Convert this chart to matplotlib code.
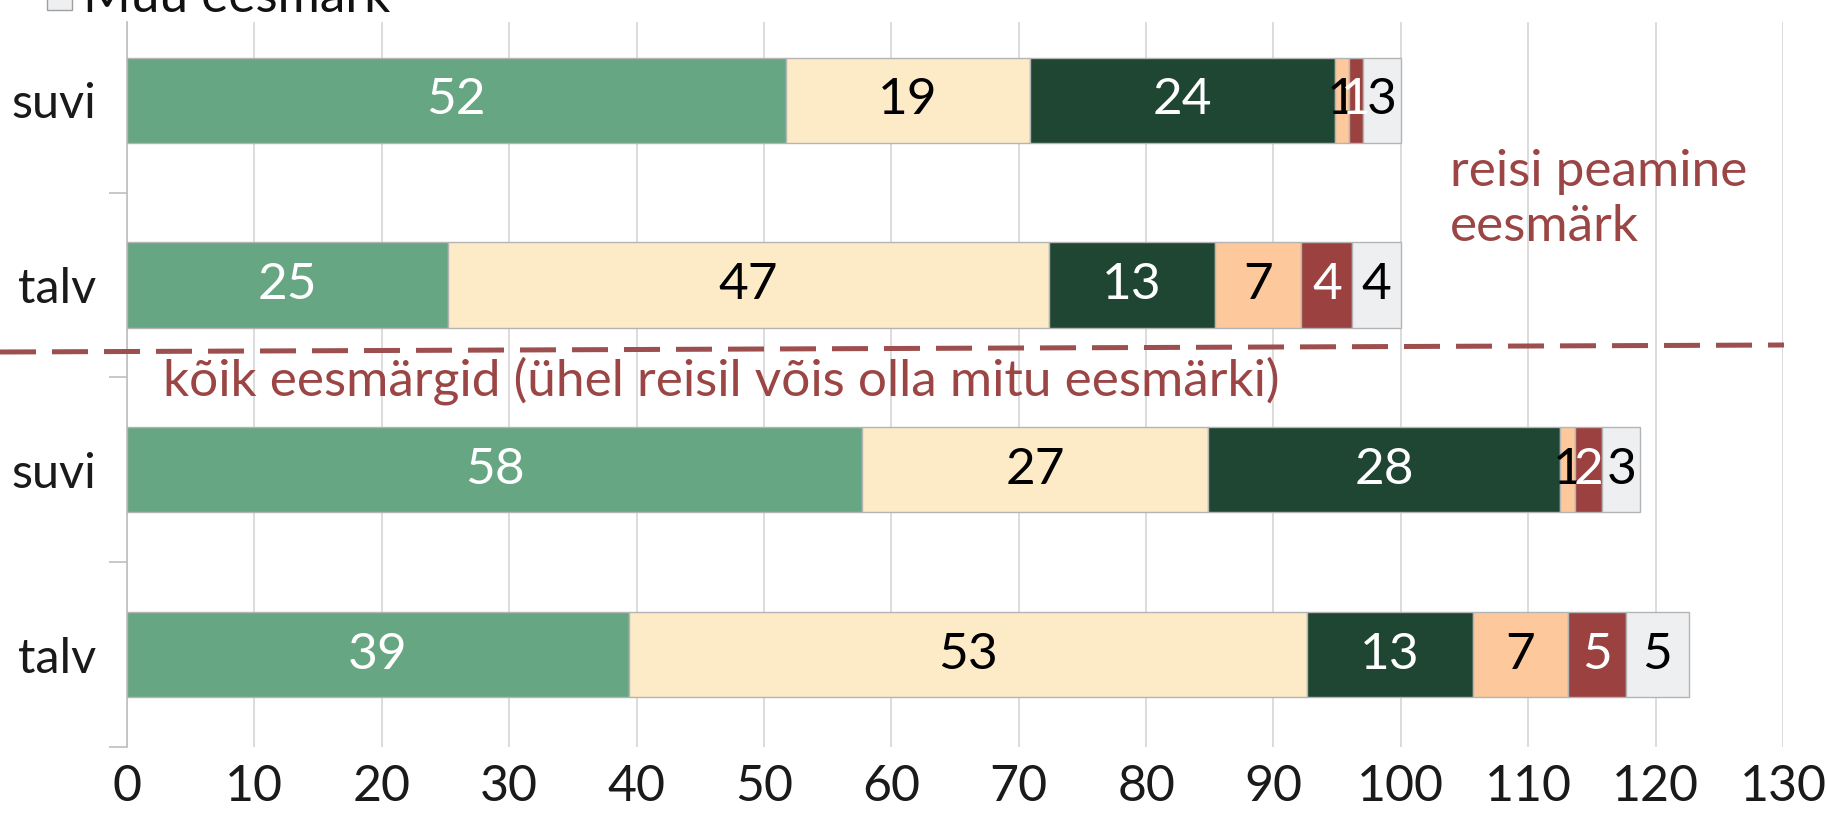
import numpy as np
import matplotlib
matplotlib.use("Agg")
from matplotlib import pyplot as plt
from matplotlib.patches import Rectangle
from matplotlib.lines import Line2D

plt.rcParams['font.family'] = ['Lato', 'DejaVu Sans']

# data (rows top to bottom)
categories = ["suvi", "talv", "suvi", "talv"]
purpose_1 = [51.7, 25.2, 57.7, 39.4]
purpose_2 = [19.2, 47.2, 27.2, 53.2]
purpose_3 = [23.9, 13.0, 27.6, 13.1]
purpose_4 = [1.1, 6.8, 1.2, 7.4]
purpose_5 = [1.1, 4.0, 2.1, 4.6]
muu = [3.0, 3.8, 3.0, 4.9]
xticks = list(range(0, 131, 10))

series = [purpose_1, purpose_2, purpose_3, purpose_4, purpose_5, muu]
colors = ['#67a683', '#fcebc6', '#1e4632', '#fcc89c', '#9b413f', '#eeeff1']
label_colors = ['white', 'black', 'white', 'black', 'white', 'black']

W, H = 1826, 822
fig = plt.figure(figsize=(W / 100, H / 100), dpi=100)

# plot area in pixel coords
left, right, top, bottom = 127, 1783, 22, 747
ax = fig.add_axes([left / W, 1 - bottom / H, (right - left) / W, (bottom - top) / H])

y = np.arange(len(categories))
start = np.zeros(len(categories))
for vals, col, lcol in zip(series, colors, label_colors):
    vals = np.array(vals)
    ax.barh(y, vals, left=start, height=0.46, color=col, edgecolor='#b4b4b4',
            linewidth=1, zorder=3)
    for yi, (s, v) in enumerate(zip(start, vals)):
        ax.text(s + v / 2, yi, str(int(round(v))), ha='center', va='center',
                color=lcol, fontsize=37, zorder=4)
    start += vals

ax.set_xlim(0, 130)
# keep the category bands, axis top a bit below the first band edge (legend covers it)
ax.set_ylim(3.5, -0.5 + 14.2 / 184.8)
ax.set_xticks(xticks)
ax.set_xticklabels([str(t) for t in xticks], fontsize=36)
ax.tick_params(axis='x', length=0, pad=12, colors='#1a1a1a')
ax.xaxis.grid(True, color='#d9d9d9', linewidth=1.3, zorder=0)

ax.set_yticks(np.arange(0.5, len(categories), 1.0))
ax.set_yticklabels([])
ax.set_yticks(y, minor=True)
ax.set_yticklabels(categories, minor=True, fontsize=35)
ax.tick_params(axis='y', which='major', length=13, width=1.2, color='#bfbfbf')
ax.tick_params(axis='y', which='minor', length=0, pad=22, colors='#1a1a1a')

for s in ['top', 'right', 'bottom']:
    ax.spines[s].set_visible(False)
ax.spines['left'].set_color('#bfbfbf')
ax.spines['left'].set_linewidth(1.2)

brown = '#9b4545'
# dashed divider, slightly tilted as in the original
fig.add_artist(Line2D([0, 1784 / W], [1 - 352 / H, 1 - 345 / H], color='#9d4e4e',
                      linewidth=3.6, dashes=(7.2, 3.2), transform=fig.transFigure))

fig.text(1450 / W, 1 - 172 / H, "reisi peamine", color=brown, fontsize=37,
         ha='left', va='center')
fig.text(1450 / W, 1 - 227 / H, "eesmärk", color=brown, fontsize=37,
         ha='left', va='center')
fig.text(163 / W, 1 - 381 / H, "kõik eesmärgid (ühel reisil võis olla mitu eesmärki)",
         color=brown, fontsize=37, ha='left', va='center')

# legend remnant cut off at the top edge
fig.add_artist(Rectangle((47 / W, 1 - 10 / H), 25 / W, 25 / H, facecolor='#eeeff1',
                         edgecolor='#a0a0a0', linewidth=1, transform=fig.transFigure))
fig.text(83 / W, 1 - 12 / H, "Muu eesmärk", color='#111111', fontsize=37,
         ha='left', va='baseline')

fig.savefig("out.png", dpi=100, facecolor='white')
